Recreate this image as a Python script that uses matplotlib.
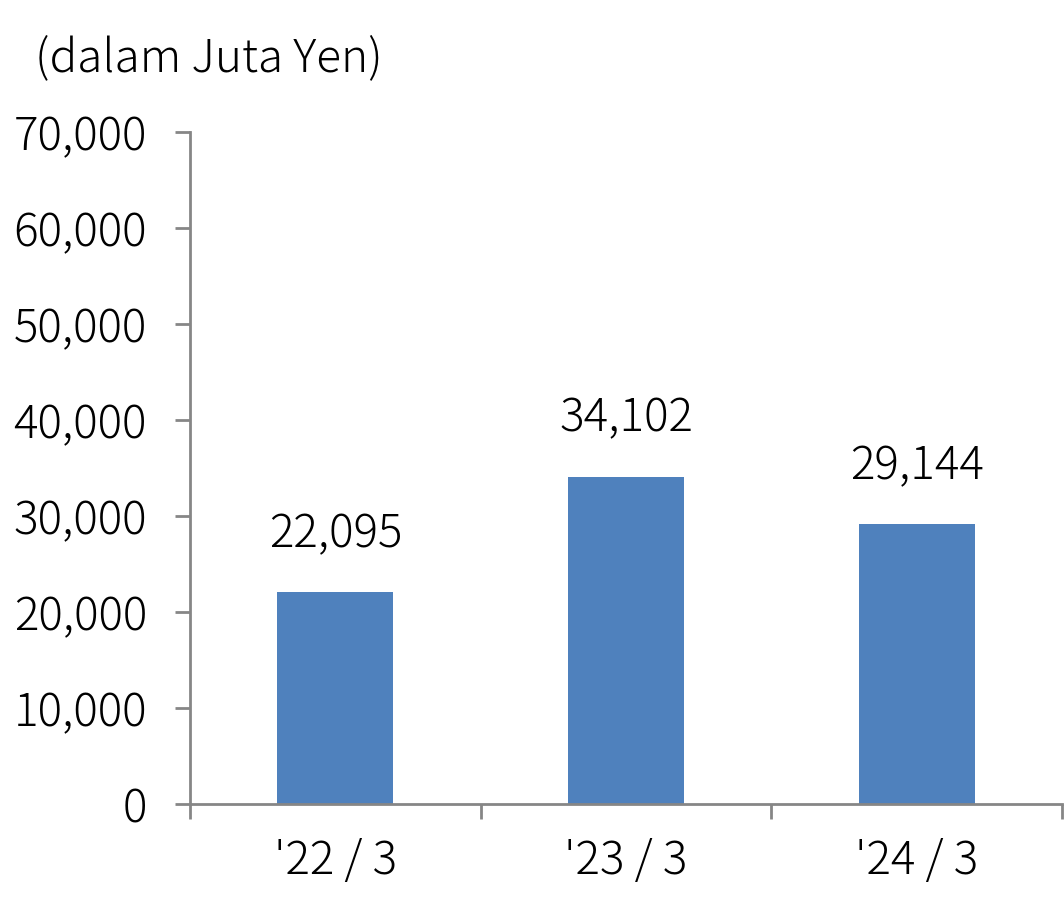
import matplotlib
matplotlib.use("Agg")
import matplotlib.pyplot as plt

plt.rcParams['font.family'] = ['Noto Sans CJK JP', 'DejaVu Sans']
plt.rcParams['font.weight'] = 'light'

categories = ["'22 / 3", "'23 / 3", "'24 / 3"]
values = [22095, 34102, 29144]
y_ticks = [0, 10000, 20000, 30000, 40000, 50000, 60000, 70000]

bar_color = '#4F81BD'
axis_color = '#868686'
fs = 33

fig = plt.figure(figsize=(10.64, 9.21), dpi=100)
ax = fig.add_axes([0.1786, 0.127, 0.8195, 0.7297])

x = list(range(len(categories)))
ax.bar(x, values, width=0.4, color=bar_color)

for xi, v in zip(x, values):
    ax.text(xi, v + 4700, f"{v:,}", ha='center', va='baseline', fontsize=fs)

ax.set_xlim(-0.5, len(categories) - 0.5)
ax.set_ylim(0, 70000)
ax.set_yticks(y_ticks)
ax.set_yticklabels([f"{t:,}" for t in y_ticks], fontsize=fs)
ax.set_xticks(x)
ax.set_xticklabels(categories, fontsize=fs)
ax.set_xticks([i - 0.5 for i in range(len(categories) + 1)], minor=True)

ax.tick_params(axis='x', which='major', length=0, pad=24)
ax.tick_params(axis='x', which='minor', length=11, width=2, color=axis_color, direction='out')
ax.tick_params(axis='y', length=11, width=2, color=axis_color, pad=20)

for s in ['top', 'right']:
    ax.spines[s].set_visible(False)
for s in ['left', 'bottom']:
    ax.spines[s].set_color(axis_color)
    ax.spines[s].set_linewidth(2)

fig.text(0.033, 0.937, "(dalam Juta Yen)", fontsize=fs, ha='left', va='center')

fig.savefig('out.png', dpi=100)
